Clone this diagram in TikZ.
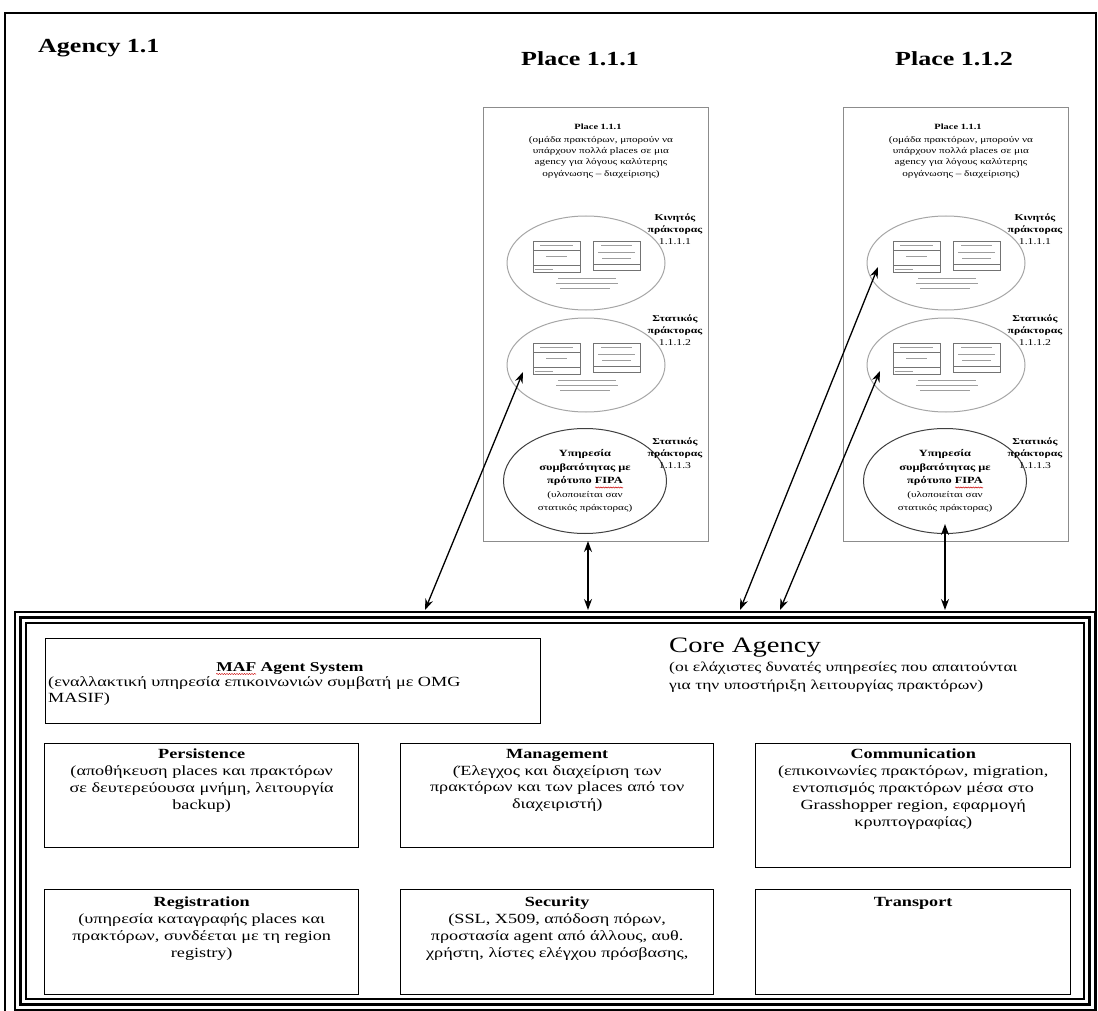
\documentclass[tikz,border=0pt]{standalone}
\usepackage{fontspec}
\setmainfont[FakeStretch=1.3]{Liberation Serif}
\usetikzlibrary{arrows.meta,shapes.geometric,decorations.pathmorphing}

\tikzset{
  agencyline/.style={line width=1.4pt},
  placebox/.style={draw=black!45, line width=1.3pt, minimum width=225, minimum height=434, anchor=north west, inner sep=0},
  agentell/.style={ellipse, draw=black!35, line width=1pt, minimum width=158, minimum height=94, inner sep=0},
  fipaell/.style={ellipse, draw=black!75, line width=1pt, minimum width=163, minimum height=105, inner sep=0,
    align=center, font=\fontsize{8.6}{13.5}\selectfont},
  agentlbl/.style={align=center, inner sep=0, font=\fontsize{9}{11.8}\selectfont},
  placetitle/.style={inner sep=0, font=\bfseries\fontsize{20}{24}\selectfont},
  placehead/.style={inner sep=0, font=\bfseries\fontsize{8}{11}\selectfont},
  placedesc/.style={inner sep=0, align=center, anchor=north, font=\fontsize{8.6}{11.3}\selectfont},
  svcbox/.style={draw, line width=1.4pt, anchor=north west, inner sep=0},
  svctext/.style={inner sep=0, align=center, anchor=north, font=\fontsize{14}{16.8}\selectfont},
  umlbox/.style={draw=black!55, line width=0.6pt},
  umltxt/.style={draw=black!38, line width=0.9pt},
  link/.style={line width=1.3pt, {Stealth[length=11pt,width=8pt]}-{Stealth[length=11pt,width=8pt]}},
  spell/.style={draw=red!80!black, line width=0.5pt, decorate, decoration={snake, amplitude=0.6pt, segment length=2.5pt}}
}
\newcommand{\svctitle}[1]{{\bfseries #1}}
\newcommand{\fipab}[1]{{\bfseries\fontsize{9.5}{13.5}\selectfont #1}}

\begin{document}
\begin{tikzpicture}[x=1pt, y=-1pt]
\useasboundingbox[fill=white] (0,0) rectangle (1098,1011);

% agency frame
\draw[agencyline] (5,1011) -- (5,13) -- (1096,13) -- (1096,1011);
\node[placetitle, anchor=base west] (agency) at (38,53) {Agency 1.1};
\node[placetitle, anchor=base] (ptitle-a) at (580,66) {Place 1.1.1};
\node[placetitle, anchor=base] (ptitle-b) at (954,66) {Place 1.1.2};

% the two places
\foreach \dx/\n in {0/a, 360/b}{
\begin{scope}[xshift=\dx]
  \node[placebox] (pbox-\n) at (483,107) {};
  \node[placehead] (phead-\n) at (598,127) {Place 1.1.1};
  \node[placedesc] (pdesc-\n) at (601,136) {(ομάδα πρακτόρων, μπορούν να\\υπάρχουν πολλά places σε μια\\agency για λόγους καλύτερης\\οργάνωσης – διαχείρισης)};
  \node[agentell] (mob-\n) at (586,263) {};
  \node[agentell] (stat-\n) at (586,365) {};
  \node[fipaell] (fipa-\n) at (585,481) {\fipab{Υπηρεσία}\\\fipab{συμβατότητας με}\\\fipab{πρότυπο FIPA}\\(υλοποιείται σαν\\στατικός πράκτορας)};
  \draw[spell] (595,487.5) -- (623,487.5);
  \node[agentlbl] (lmob-\n) at (675,229) {\textbf{Κινητός}\\\textbf{πράκτορας}\\1.1.1.1};
  \node[agentlbl] (lstat-\n) at (675,330) {\textbf{Στατικός}\\\textbf{πράκτορας}\\1.1.1.2};
  \node[agentlbl] (lfipa-\n) at (675,453) {\textbf{Στατικός}\\\textbf{πράκτορας}\\1.1.1.3};
  % small class sketches inside the agent ellipses
  \foreach \e in {mob-\n, stat-\n}{
    \begin{scope}[shift={(\e.center)}]
      \draw[umlbox] (-53,-22) rectangle (-6,9);
      \draw[umlbox] (-53,2) -- (-6,2);
      \draw[umlbox] (-53,-13) -- (-6,-13);
      \draw[umltxt] (-46,-18) -- (-13,-18);
      \draw[umltxt] (-40,-7) -- (-19,-7);
      \draw[umltxt] (-51,6) -- (-33,6);
      \draw[umlbox] (7,-22) rectangle (54,7);
      \draw[umlbox] (7,1) -- (54,1);
      \draw[umltxt] (15,-18) -- (46,-18);
      \draw[umltxt] (12,-11) -- (49,-11);
      \draw[umltxt] (16,-5) -- (45,-5);
      \draw[umltxt] (-28,15) -- (30,15);
      \draw[umltxt] (-30,20) -- (32,20);
      \draw[umltxt] (-26,25) -- (24,25);
    \end{scope}
  }
\end{scope}
}

% core agency frame: thin, thick, thin
\draw[line width=1.1pt] (15,612) rectangle (1095,1010);
\draw[line width=3.4pt] (20.5,617.5) rectangle (1089.5,1004.5);
\draw[line width=1.1pt] (26,623) rectangle (1084,999);

\node[inner sep=0, anchor=base west, font=\fontsize{22}{26}\selectfont] (coretitle) at (669,652) {Core Agency};
\node[inner sep=0, anchor=north west, align=left, font=\fontsize{13.5}{18}\selectfont] (coredesc) at (669,662) {(οι ελάχιστες δυνατές υπηρεσίες που απαιτούνται\\για την υποστήριξη λειτουργίας πρακτόρων)};

% MAF agent system
\node[svcbox, minimum width=495, minimum height=85] (maf) at (45,638) {};
\node[inner sep=0, anchor=base, font=\bfseries\fontsize{13.5}{16.6}\selectfont] (maf-t) at (290,671) {MAF Agent System};
\draw[spell] ([yshift=-3pt]maf-t.base west) -- ++(40,0);
\node[inner sep=0, anchor=north west, align=left, font=\fontsize{14}{16.6}\selectfont] (maf-d) at (48,676) {(εναλλακτική υπηρεσία επικοινωνιών συμβατή με OMG\\MASIF)};

% service boxes
\node[svcbox, minimum width=314, minimum height=104] (pers) at (44,743) {};
\node[svcbox, minimum width=313, minimum height=104] (mgmt) at (400,743) {};
\node[svcbox, minimum width=315, minimum height=124] (comm) at (755,743) {};
\node[svcbox, minimum width=314, minimum height=105] (regi) at (44,889) {};
\node[svcbox, minimum width=313, minimum height=105] (secu) at (400,889) {};
\node[svcbox, minimum width=315, minimum height=105] (tran) at (755,889) {};

\node[svctext] (pers-t) at ([yshift=-6pt]pers.north) {\svctitle{Persistence}\\(αποθήκευση places και πρακτόρων\\σε δευτερεύουσα μνήμη, λειτουργία\\backup)};
\node[svctext] (mgmt-t) at ([yshift=-6pt]mgmt.north) {\svctitle{Management}\\(Έλεγχος και διαχείριση των\\πρακτόρων και των places από τον\\διαχειριστή)};
\node[svctext] (comm-t) at ([yshift=-6pt]comm.north) {\svctitle{Communication}\\(επικοινωνίες πρακτόρων, migration,\\εντοπισμός πρακτόρων μέσα στο\\Grasshopper region, εφαρμογή\\κρυπτογραφίας)};
\node[svctext] (regi-t) at ([yshift=-8pt]regi.north) {\svctitle{Registration}\\(υπηρεσία καταγραφής places και\\πρακτόρων, συνδέεται με τη region\\registry)};
\node[svctext] (secu-t) at ([yshift=-8pt]secu.north) {\svctitle{Security}\\(SSL, X509, απόδοση πόρων,\\προστασία agent από άλλους, αυθ.\\χρήστη, λίστες ελέγχου πρόσβασης,};
\node[svctext] (tran-t) at ([yshift=-8pt]tran.north) {\svctitle{Transport}};

% links between the places and the core agency
\coordinate (c1) at (425,610);
\coordinate (c2) at (588,610);
\coordinate (c3) at (740,610);
\coordinate (c4) at (780,610);
\coordinate (c5) at (945,610);
\coordinate (t1) at (523,372);
\coordinate (t2) at (588,541);
\coordinate (t3) at (878,267);
\coordinate (t4) at (880,371);
\coordinate (t5) at (945,524);
\draw[link] (c1) -- (t1);
\draw[link] (c2) -- (t2);
\draw[link] (c3) -- (t3);
\draw[link] (c4) -- (t4);
\draw[link] (c5) -- (t5);
\end{tikzpicture}
\end{document}
